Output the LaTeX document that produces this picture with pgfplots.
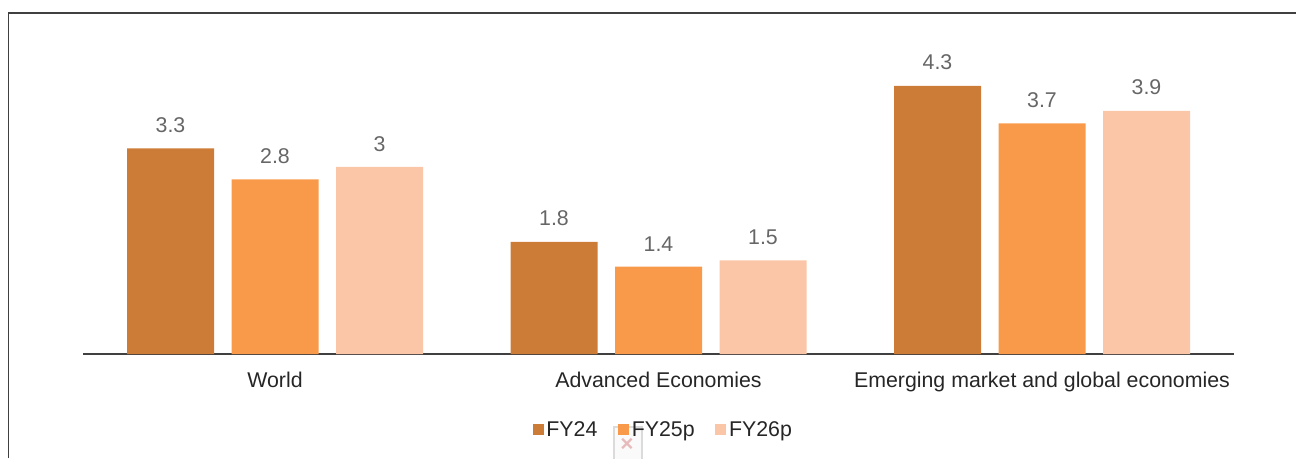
\documentclass[border=0pt]{standalone}
\usepackage{pgfplots}
\pgfplotsset{compat=1.18}
\usepackage{fontspec}
\setmainfont{Liberation Sans}
\definecolor{cA}{HTML}{CC7C36}
\definecolor{cB}{HTML}{F9994A}
\definecolor{cC}{HTML}{FBC6A8}
\definecolor{lab}{HTML}{666666}
\definecolor{txt}{HTML}{262626}
\definecolor{frame}{HTML}{404040}
\begin{document}
\begin{tikzpicture}[x=0.75pt,y=0.75pt]
\useasboundingbox (0,0) rectangle (1296,458);
% chart frame, open at the bottom and right
\draw[frame,line width=1.25pt] (8.5,0) -- (8.5,445) -- (1296,445);
% broken-image placeholder at the bottom, behind the legend
\draw[black!14,fill=black!2,line width=1.5pt] (613.5,-2) rectangle (641.5,31);
\node[text=red!70!black,opacity=.25,font=\bfseries\fontsize{17}{17}\selectfont] at (627,13) {×};
\begin{axis}[
  at={(62.44pt,78pt)},anchor=south west,
  scale only axis,width=862.875pt,height=233.8pt,
  xmin=-0.5,xmax=2.5,ymin=0,ymax=5,
  axis x line=bottom,axis y line=none,
  axis line style={-,draw=frame,line width=1.1pt},
  xtick={0,1,2},
  xticklabels={World,Advanced Economies,Emerging market and global economies},
  major tick length=0pt,
  xticklabel style={font=\fontsize{16}{18}\selectfont,text=txt,yshift=-9.75pt},
  /pgf/number format/assume math mode=true,
  ybar,
  bar width=65.25pt,
  nodes near coords,
  every node near coord/.append style={font=\fontsize{16}{18}\selectfont,text=lab,yshift=8.25pt},
  clip=false,
  legend columns=3,
  legend style={at={(0.5045,-0.2435)},anchor=center,draw=none,fill=none,
    font=\fontsize{16}{18}\selectfont,text=txt,
    /tikz/every even column/.style={column sep=13.6pt},inner sep=0pt},
  legend image code/.code={\fill[#1] (0pt,-4.1pt) rectangle (8.2pt,4.1pt);},
]
\addplot[fill=cA,draw=none,bar shift=-78.375pt] coordinates {(0,3.3) (1,1.8) (2,4.3)};
\addplot[fill=cB,draw=none,bar shift=0pt] coordinates {(0,2.8) (1,1.4) (2,3.7)};
\addplot[fill=cC,draw=none,bar shift=78.375pt] coordinates {(0,3) (1,1.5) (2,3.9)};
\legend{FY24,FY25p,FY26p}
\end{axis}
\end{tikzpicture}
\end{document}
